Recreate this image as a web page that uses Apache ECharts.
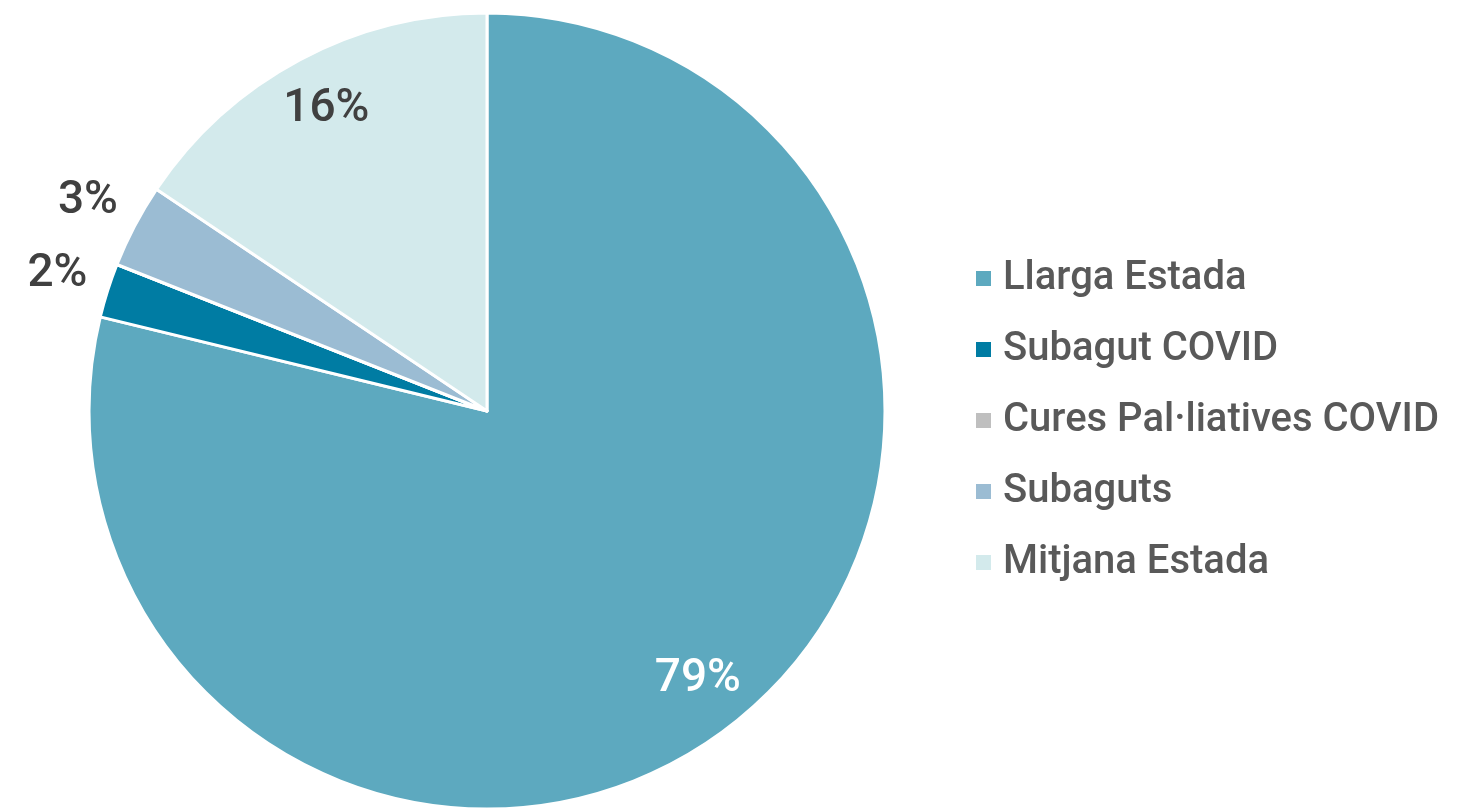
<!DOCTYPE html>
<html>
<head>
<meta charset="utf-8">
<script src="https://cdn.jsdelivr.net/npm/echarts@6/dist/echarts.min.js"></script>
<style>html,body{margin:0;padding:0;background:#fff}#c{width:1460px;height:810px}</style>
</head>
<body>
<div id="c"></div>
<script>
const categories = ['Llarga Estada', 'Subagut COVID', 'Cures Pal·liatives COVID', 'Subaguts', 'Mitjana Estada'];
const values = [78.8, 2.2, 0, 3.4, 15.6];
const colors = ['#5DA9BF', '#007CA3', '#BFBFBF', '#9BBCD3', '#D3EAEC'];
// which labels sit inside (large slices) and outside (small slices)
const innerLabels = ['Llarga Estada', 'Mitjana Estada'];
const outerLabels = ['Subagut COVID', 'Subaguts'];
const labelColors = {'Llarga Estada': '#ffffff', 'Mitjana Estada': '#404040', 'Subagut COVID': '#404040', 'Subaguts': '#404040'};

const FONT = 'Roboto, "Noto Sans", sans-serif';
const CENTER = [487, 411];
const R = 398;

const mainData = categories.map((n, i) => ({name: n, value: values[i], itemStyle: {color: colors[i]}}));
function labelData(list) {
  return categories.map((n, i) => ({
    name: n, value: values[i],
    label: {show: list.indexOf(n) >= 0, color: labelColors[n] || '#404040'}
  }));
}

const chart = echarts.init(document.getElementById('c'));
chart.setOption({
  animation: false,
  legend: {
    orient: 'vertical',
    left: 969,
    top: 253,
    icon: 'rect',
    itemWidth: 17,
    itemHeight: 17,
    itemGap: 30,
    data: categories,
    textStyle: {fontFamily: FONT, fontSize: 40, fontWeight: 500, color: '#595959', lineHeight: 41, padding: [0, 0, 0, 6]}
  },
  series: [
    {
      type: 'pie',
      center: CENTER,
      radius: [0, R],
      startAngle: 90,
      clockwise: true,
      percentPrecision: 0,
      data: mainData,
      itemStyle: {borderColor: '#ffffff', borderWidth: 3},
      label: {show: false},
      labelLine: {show: false},
      emphasis: {disabled: true}
    },
    {
      type: 'pie',
      center: CENTER,
      radius: [0, R * 1.7],
      startAngle: 90,
      clockwise: true,
      percentPrecision: 0,
      silent: true,
      data: labelData(innerLabels),
      itemStyle: {color: 'transparent', borderWidth: 0},
      label: {position: 'inside', formatter: '{d}%', fontFamily: FONT, fontSize: 46, fontWeight: 500},
      labelLine: {show: false},
      emphasis: {disabled: true}
    },
    {
      type: 'pie',
      center: CENTER,
      radius: [R, R * 1.25],
      startAngle: 90,
      clockwise: true,
      percentPrecision: 0,
      silent: true,
      data: labelData(outerLabels),
      itemStyle: {color: 'transparent', borderWidth: 0},
      label: {position: 'inside', formatter: '{d}%', fontFamily: FONT, fontSize: 46, fontWeight: 500},
      labelLine: {show: false},
      emphasis: {disabled: true}
    }
  ]
});
</script>
</body>
</html>
